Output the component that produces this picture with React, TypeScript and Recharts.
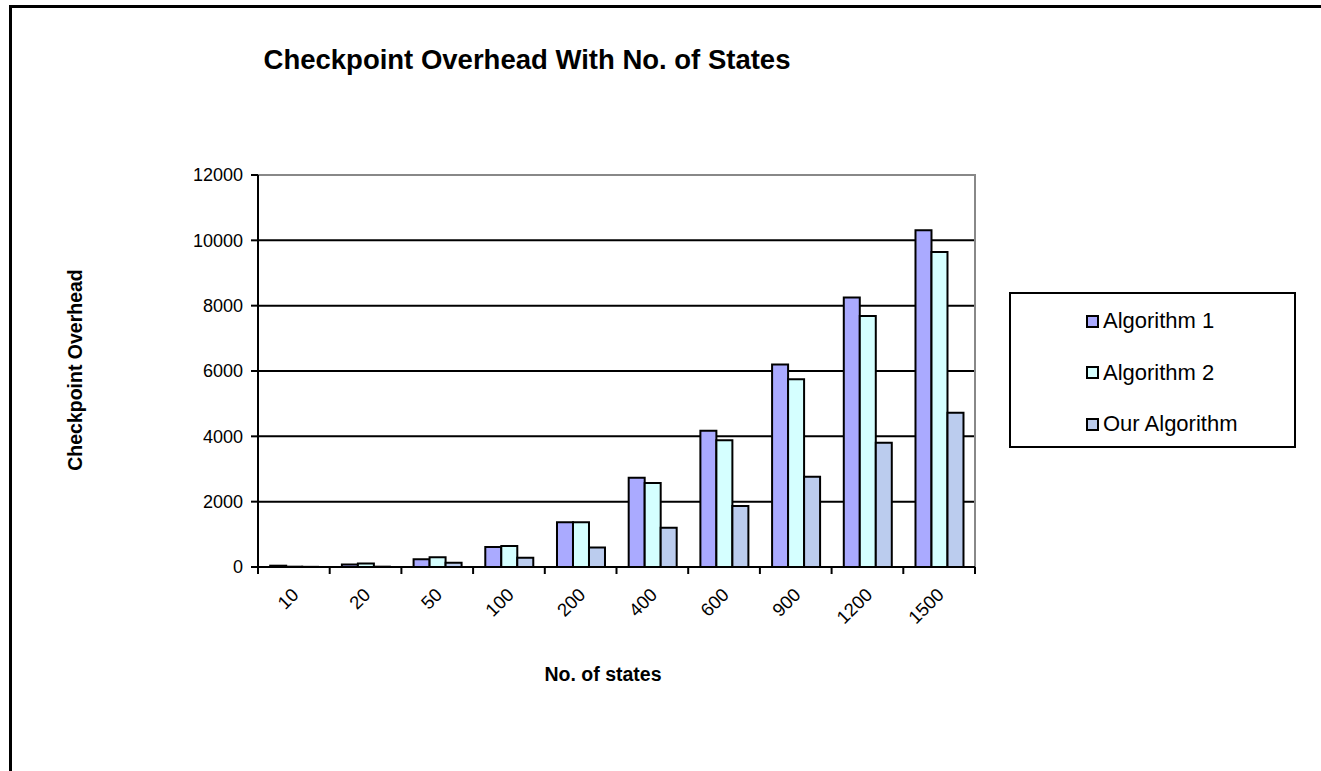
import React from "react";
import {
  Bar,
  BarChart,
  CartesianGrid,
  ReferenceArea,
  XAxis,
  YAxis,
} from "recharts";

// number of states on the x axis
const states = ["10", "20", "50", "100", "200", "400", "600", "900", "1200", "1500"];

// checkpoint overhead per algorithm
const algorithm1 = [40, 80, 240, 610, 1370, 2730, 4170, 6200, 8250, 10310];
const algorithm2 = [10, 110, 300, 640, 1370, 2570, 3880, 5750, 7680, 9640];
const ourAlgorithm = [5, 10, 130, 280, 600, 1200, 1870, 2760, 3800, 4720];

const yTicks = [0, 2000, 4000, 6000, 8000, 10000, 12000];

const SERIES = [
  { key: "alg1", name: "Algorithm 1", color: "#AAAAFF" },
  { key: "alg2", name: "Algorithm 2", color: "#D5FFFF" },
  { key: "ours", name: "Our Algorithm", color: "#BBCCEE" },
];

const FONT = "'Liberation Sans', Arial, sans-serif";
const W = 1321;
const H = 771;
const PLOT_LEFT = 258;
const PLOT_RIGHT = 975;
const PLOT_TOP = 175;
const PLOT_BOTTOM = 567;
const X_AXIS_H = 60;
const Y_AXIS_W = 70;

const data = states.map((s, i) => ({
  state: s,
  alg1: algorithm1[i],
  alg2: algorithm2[i],
  ours: ourAlgorithm[i],
}));

// category ticks sit on the band edges, labels are rotated under the band centre
function StateTick(props: any) {
  const { x, y, payload, index } = props;
  const half = (PLOT_RIGHT - PLOT_LEFT) / states.length / 2;
  const axisY = y - 7;
  const lx = x + 6;
  const ly = y + 22;
  return (
    <g>
      <line x1={x - half} x2={x - half} y1={axisY} y2={axisY + 7} stroke="#000" strokeWidth={2} />
      {index === states.length - 1 && (
        <line x1={x + half} x2={x + half} y1={axisY} y2={axisY + 7} stroke="#000" strokeWidth={2} />
      )}
      <text
        x={lx}
        y={ly}
        textAnchor="end"
        transform={`rotate(-45 ${lx} ${ly})`}
        fontFamily={FONT}
        fontSize={18.5}
        fill="#000"
      >
        {payload.value}
      </text>
    </g>
  );
}

// grey plot-area frame: only the top and right edges show
function PlotFrame(props: any) {
  const { x, y, width, height } = props;
  return (
    <path
      d={`M${x},${y}H${x + width}V${y + height}`}
      fill="none"
      stroke="#888"
      strokeWidth={2}
    />
  );
}

function LegendBox() {
  return (
    <div
      style={{
        position: "absolute",
        left: 1009,
        top: 292,
        width: 283,
        height: 152,
        border: "2px solid #000",
        background: "#fff",
        fontSize: 22,
      }}
    >
      {SERIES.map((s, i) => (
        <div
          key={s.key}
          style={{
            position: "absolute",
            left: 75,
            top: 14 + i * 51.5,
            display: "flex",
            alignItems: "center",
            height: 26,
            whiteSpace: "nowrap",
          }}
        >
          <span
            style={{
              display: "inline-block",
              width: 9,
              height: 9,
              border: "2px solid #000",
              background: s.color,
              marginRight: 4,
            }}
          />
          <span>{s.name}</span>
        </div>
      ))}
    </div>
  );
}

export default function App() {
  return (
    <div
      style={{
        position: "absolute",
        left: 0,
        top: 0,
        width: W,
        height: H,
        overflow: "hidden",
        background: "#fff",
        fontFamily: FONT,
      }}
    >
      <BarChart
        width={W}
        height={H}
        data={data}
        barGap={0}
        barCategoryGap="17%"
        margin={{
          top: PLOT_TOP,
          right: W - PLOT_RIGHT,
          left: PLOT_LEFT - Y_AXIS_W,
          bottom: H - PLOT_BOTTOM - X_AXIS_H,
        }}
        style={{ position: "absolute", left: 0, top: 0 }}
      >
        <CartesianGrid
          vertical={false}
          horizontalValues={[2000, 4000, 6000, 8000, 10000]}
          stroke="#000"
          strokeWidth={2}
        />
        <ReferenceArea y1={0} y2={12000} shape={<PlotFrame />} ifOverflow="visible" />
        <XAxis
          dataKey="state"
          interval={0}
          height={X_AXIS_H}
          tickSize={7}
          tickMargin={0}
          tickLine={false}
          axisLine={{ stroke: "#000", strokeWidth: 2 }}
          tick={<StateTick />}
        />
        <YAxis
          width={Y_AXIS_W}
          domain={[0, 12000]}
          ticks={yTicks}
          interval={0}
          tickSize={7}
          tickMargin={8}
          tickLine={{ stroke: "#000", strokeWidth: 2 }}
          axisLine={{ stroke: "#000", strokeWidth: 2 }}
          tick={{ fill: "#000", fontSize: 18, fontFamily: FONT }}
        />
        {SERIES.map((s) => (
          <Bar
            key={s.key}
            dataKey={s.key}
            name={s.name}
            fill={s.color}
            stroke="#000"
            strokeWidth={2}
            isAnimationActive={false}
          />
        ))}
      </BarChart>
      <LegendBox />
      <div
        style={{
          position: "absolute",
          left: 527,
          top: 44,
          transform: "translateX(-50%)",
          whiteSpace: "nowrap",
          fontSize: 27.5,
          fontWeight: "bold",
        }}
      >
        Checkpoint Overhead With No. of States
      </div>
      <div
        style={{
          position: "absolute",
          left: 75,
          top: 370,
          transform: "translate(-50%, -50%) rotate(-90deg)",
          whiteSpace: "nowrap",
          fontSize: 19.5,
          fontWeight: "bold",
        }}
      >
        Checkpoint Overhead
      </div>
      <div
        style={{
          position: "absolute",
          left: 603,
          top: 663,
          transform: "translateX(-50%)",
          whiteSpace: "nowrap",
          fontSize: 19.5,
          fontWeight: "bold",
        }}
      >
        No. of states
      </div>
      {/* outer chart border, its right and bottom edges run off the page */}
      <div
        style={{
          position: "absolute",
          left: 9,
          top: 5,
          width: W,
          height: H,
          boxSizing: "border-box",
          borderTop: "3px solid #000",
          borderLeft: "3px solid #000",
          pointerEvents: "none",
        }}
      />
    </div>
  );
}
